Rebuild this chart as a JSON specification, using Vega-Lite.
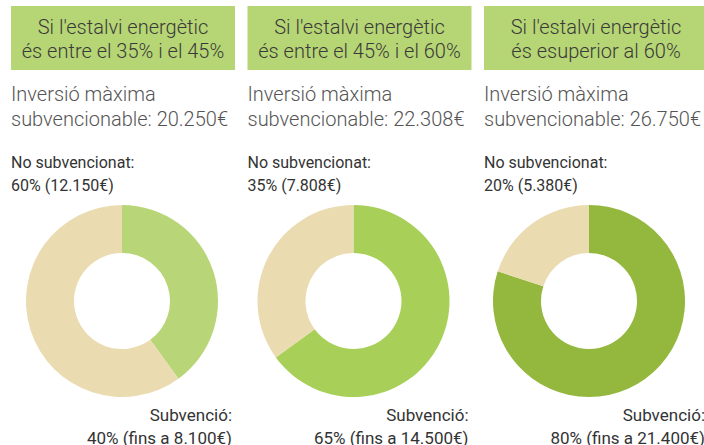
{
  "$schema": "https://vega.github.io/schema/vega-lite/v6.json",
  "padding": {"left": 11, "top": 6, "right": 0, "bottom": 0},
  "background": "white",
  "config": {
    "view": {"stroke": null},
    "font": "Roboto",
    "title": {
      "anchor": "start", "frame": "group", "font": "Roboto Light, Roboto", "fontSize": 20, "fontWeight": 300,
      "color": "#555555", "lineHeight": 25, "subtitleFont": "Roboto", "subtitleFontSize": 16,
      "subtitleFontWeight": 400, "subtitleColor": "#333333", "subtitleLineHeight": 23,
      "subtitlePadding": 25, "offset": 11
    }
  },
  "datasets": {
    "trams": [
      {"tram": "35–45%", "capcalera": "Si l'estalvi energètic\nés entre el 35% i el 45%", "inversio": 20250},
      {"tram": "45–60%", "capcalera": "Si l'estalvi energètic\nés entre el 45% i el 60%", "inversio": 22308},
      {"tram": ">60%", "capcalera": "Si l'estalvi energètic\nés esuperior al 60%", "inversio": 26750}
    ],
    "parts": [
      {"tram": "35–45%", "part": "Subvenció", "ordre": 1, "pct": 40, "import": 8100, "segment": "Subvenció 35–45%", "etiqueta": "Subvenció:\n40% (fins a 8.100€)"},
      {"tram": "35–45%", "part": "No subvencionat", "ordre": 2, "pct": 60, "import": 12150, "segment": "No subvencionat", "etiqueta": "No subvencionat:\n60% (12.150€)"},
      {"tram": "45–60%", "part": "Subvenció", "ordre": 1, "pct": 65, "import": 14500, "segment": "Subvenció 45–60%", "etiqueta": "Subvenció:\n65% (fins a 14.500€)"},
      {"tram": "45–60%", "part": "No subvencionat", "ordre": 2, "pct": 35, "import": 7808, "segment": "No subvencionat", "etiqueta": "No subvencionat:\n35% (7.808€)"},
      {"tram": ">60%", "part": "Subvenció", "ordre": 1, "pct": 80, "import": 21400, "segment": "Subvenció >60%", "etiqueta": "Subvenció:\n80% (fins a 21.400€)"},
      {"tram": ">60%", "part": "No subvencionat", "ordre": 2, "pct": 20, "import": 5380, "segment": "No subvencionat", "etiqueta": "No subvencionat:\n20% (5.380€)"}
    ]
  },
  "spacing": 12.5,
  "hconcat": [
    {
      "spacing": 15,
      "vconcat": [
        {
          "width": 224, "height": 64, "view": {"fill": "#b6d574", "stroke": null},
          "data": {"name": "trams"}, "transform": [{"filter": "datum.tram === '35–45%'"}],
          "mark": {"type": "text", "align": "center", "baseline": "middle", "dy": -10, "font": "Roboto Light, Roboto", "fontSize": 20, "fontWeight": 300, "lineHeight": 24, "lineBreak": "\n", "color": "#3a3a3a"},
          "encoding": {"text": {"field": "capcalera"}}
        },
        {
          "spacing": 10,
          "vconcat": [
            {
              "width": 222, "height": 192,
              "title": {"text": ["Inversió màxima", "subvencionable: 20.250€"], "subtitle": ["No subvencionat:", "60% (12.150€)"], "subtitleDx": 3},
              "data": {"name": "parts"}, "transform": [{"filter": "datum.tram === '35–45%'"}],
              "mark": {"type": "arc", "innerRadius": 48, "outerRadius": 96},
              "encoding": {
                "theta": {"field": "pct", "type": "quantitative", "stack": true},
                "order": {"field": "ordre", "type": "quantitative"},
                "color": {"field": "segment", "type": "nominal", "legend": null,
                  "scale": {"domain": ["Subvenció 35–45%", "Subvenció 45–60%", "Subvenció >60%", "No subvencionat"], "range": ["#b8d677", "#a8cf57", "#94b83e", "#eadbb0"]}}
              }
            },
            {
              "width": 221, "height": 16,
              "data": {"name": "parts"}, "transform": [{"filter": "datum.tram === '35–45%' && datum.part === 'Subvenció'"}],
              "mark": {"type": "text", "align": "right", "baseline": "alphabetic", "fontSize": 17, "lineHeight": 23, "lineBreak": "\n", "color": "#333333"},
              "encoding": {"x": {"value": "width"}, "text": {"field": "etiqueta"}}
            }
          ]
        }
      ]
    },
    {
      "spacing": 15,
      "vconcat": [
        {
          "width": 224, "height": 64, "view": {"fill": "#b6d574", "stroke": null},
          "data": {"name": "trams"}, "transform": [{"filter": "datum.tram === '45–60%'"}],
          "mark": {"type": "text", "align": "center", "baseline": "middle", "dy": -10, "font": "Roboto Light, Roboto", "fontSize": 20, "fontWeight": 300, "lineHeight": 24, "lineBreak": "\n", "color": "#3a3a3a"},
          "encoding": {"text": {"field": "capcalera"}}
        },
        {
          "spacing": 10,
          "vconcat": [
            {
              "width": 212, "height": 192,
              "title": {"text": ["Inversió màxima", "subvencionable: 22.308€"], "subtitle": ["No subvencionat:", "35% (7.808€)"]},
              "data": {"name": "parts"}, "transform": [{"filter": "datum.tram === '45–60%'"}],
              "mark": {"type": "arc", "innerRadius": 48, "outerRadius": 96},
              "encoding": {
                "theta": {"field": "pct", "type": "quantitative", "stack": true},
                "order": {"field": "ordre", "type": "quantitative"},
                "color": {"field": "segment", "type": "nominal", "legend": null,
                  "scale": {"domain": ["Subvenció 35–45%", "Subvenció 45–60%", "Subvenció >60%", "No subvencionat"], "range": ["#b8d677", "#a8cf57", "#94b83e", "#eadbb0"]}}
              }
            },
            {
              "width": 221, "height": 16,
              "data": {"name": "parts"}, "transform": [{"filter": "datum.tram === '45–60%' && datum.part === 'Subvenció'"}],
              "mark": {"type": "text", "align": "right", "baseline": "alphabetic", "fontSize": 17, "lineHeight": 23, "lineBreak": "\n", "color": "#333333"},
              "encoding": {"x": {"value": "width"}, "text": {"field": "etiqueta"}}
            }
          ]
        }
      ]
    },
    {
      "spacing": 15,
      "vconcat": [
        {
          "width": 224, "height": 64, "view": {"fill": "#b6d574", "stroke": null},
          "data": {"name": "trams"}, "transform": [{"filter": "datum.tram === '>60%'"}],
          "mark": {"type": "text", "align": "center", "baseline": "middle", "dy": -10, "font": "Roboto Light, Roboto", "fontSize": 20, "fontWeight": 300, "lineHeight": 24, "lineBreak": "\n", "color": "#3a3a3a"},
          "encoding": {"text": {"field": "capcalera"}}
        },
        {
          "spacing": 10,
          "vconcat": [
            {
              "width": 210, "height": 192,
              "title": {"text": ["Inversió màxima", "subvencionable: 26.750€"], "subtitle": ["No subvencionat:", "20% (5.380€)"], "subtitleDx": 3},
              "data": {"name": "parts"}, "transform": [{"filter": "datum.tram === '>60%'"}],
              "mark": {"type": "arc", "innerRadius": 48, "outerRadius": 96},
              "encoding": {
                "theta": {"field": "pct", "type": "quantitative", "stack": true},
                "order": {"field": "ordre", "type": "quantitative"},
                "color": {"field": "segment", "type": "nominal", "legend": null,
                  "scale": {"domain": ["Subvenció 35–45%", "Subvenció 45–60%", "Subvenció >60%", "No subvencionat"], "range": ["#b8d677", "#a8cf57", "#94b83e", "#eadbb0"]}}
              }
            },
            {
              "width": 221, "height": 16,
              "data": {"name": "parts"}, "transform": [{"filter": "datum.tram === '>60%' && datum.part === 'Subvenció'"}],
              "mark": {"type": "text", "align": "right", "baseline": "alphabetic", "fontSize": 17, "lineHeight": 23, "lineBreak": "\n", "color": "#333333"},
              "encoding": {"x": {"value": "width"}, "text": {"field": "etiqueta"}}
            }
          ]
        }
      ]
    }
  ]
}
